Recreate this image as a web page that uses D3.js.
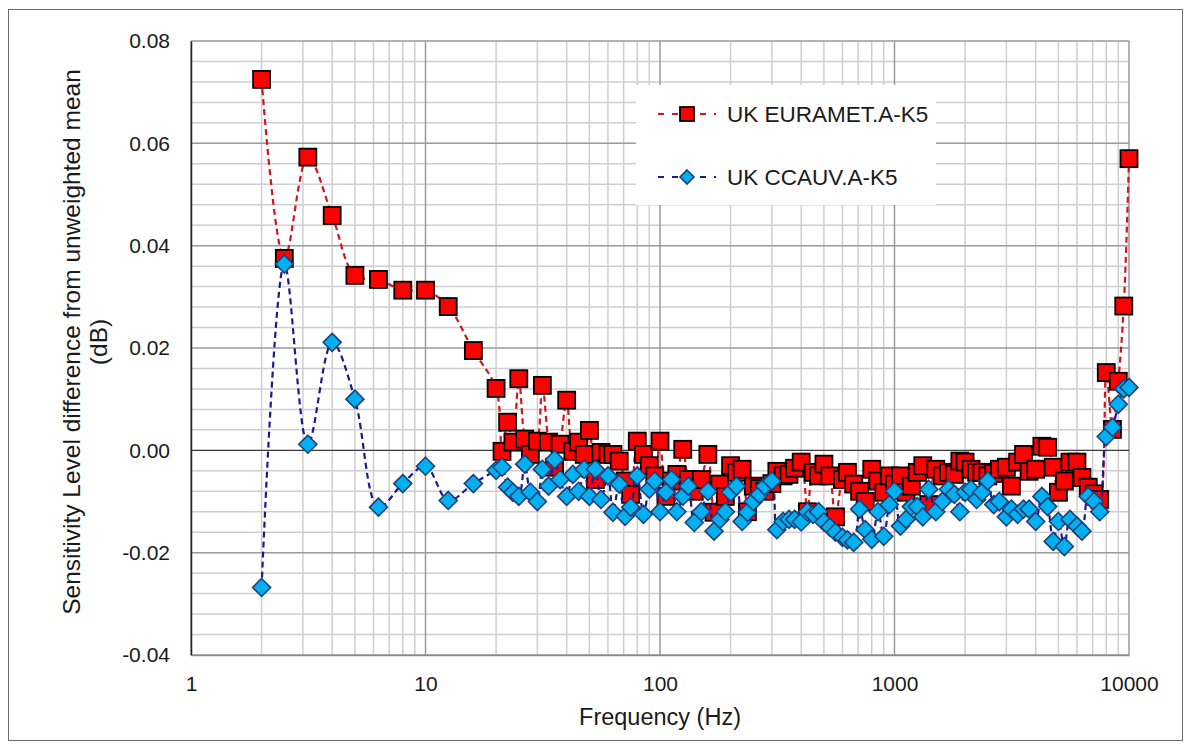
<!DOCTYPE html>
<html>
<head>
<meta charset="utf-8">
<script src="https://cdn.jsdelivr.net/npm/d3@7"></script>
<style>
  html, body { margin: 0; padding: 0; background: #fff; }
  svg { display: block; font-family: "Liberation Sans", Arial, sans-serif; }
</style>
</head>
<body>
<div id="chart"></div>
<script>
// frequencies (Hz): 1/3 octave below 20 Hz, 1/12 octave (R40) from 20 Hz
const freqs = [2, 2.5, 3.15, 4, 5, 6.3, 8, 10, 12.5, 16,
  20, 21.2, 22.4, 23.6, 25, 26.5, 28, 30, 31.5, 33.5, 35.5, 37.5, 40, 42.5, 45, 47.5, 50, 53, 56, 60, 63, 67, 71, 75, 80, 85, 90, 95,
  100, 106, 112, 118, 125, 132, 140, 150, 160, 170, 180, 190, 200, 212, 224, 236, 250, 265, 280, 300, 315, 335, 355, 375, 400, 425, 450, 475, 500, 530, 560, 600, 630, 670, 710, 750, 800, 850, 900, 950,
  1000, 1060, 1120, 1180, 1250, 1320, 1400, 1500, 1600, 1700, 1800, 1900, 2000, 2120, 2240, 2360, 2500, 2650, 2800, 3000, 3150, 3350, 3550, 3750, 4000, 4250, 4500, 4750, 5000, 5300, 5600, 6000, 6300, 6700, 7100, 7500, 8000, 8500, 9000, 9500, 10000]

const euramet = [0.0725, 0.0375, 0.0573, 0.0459, 0.0342, 0.0334, 0.0313, 0.0313, 0.0281, 0.0195,
  0.0121, -0.0002, 0.0055, 0.0016, 0.0140, 0.0022, -0.0008, 0.0018, 0.0127, 0.0016, -0.0033, 0.0012, 0.0098, -0.0002, 0.0016, -0.0008, 0.0039, -0.0057, -0.0004, -0.0008, -0.0008, -0.0021, -0.0060, -0.0086, 0.0018, -0.0008, -0.0030, -0.0050,
  0.0018, -0.0090, -0.0060, -0.0047, 0.0002, -0.0057, -0.0080, -0.0057, -0.0008, -0.0121, -0.0066, -0.0090, -0.0030, -0.0043, -0.0037, -0.0120, -0.0070, -0.0075, -0.0080, -0.0065, -0.0041, -0.0050, -0.0047, -0.0035, -0.0023, -0.0120, -0.0043, -0.0050, -0.0027, -0.0050, -0.0130, -0.0057, -0.0043, -0.0066, -0.0080, -0.0100, -0.0037, -0.0060, -0.0082, -0.0050,
  -0.0066, -0.0050, -0.0082, -0.0070, -0.0043, -0.0030, -0.0106, -0.0037, -0.0050, -0.0043, -0.0047, -0.0021, -0.0023, -0.0037, -0.0043, -0.0043, -0.0050, -0.0045, -0.0037, -0.0033, -0.0070, -0.0023, -0.0008, -0.0041, -0.0037, 0.0008, 0.0006, -0.0033, -0.0082, -0.0060, -0.0023, -0.0023, -0.0053, -0.0072, -0.0085, -0.0096, 0.0152, 0.0041, 0.0135, 0.0282, 0.0570]

const ccauv = [-0.0268, 0.0364, 0.0012, 0.0211, 0.0100, -0.0111, -0.0065, -0.0031, -0.0098, -0.0065,
  -0.0039, -0.0033, -0.0072, -0.0082, -0.0090, -0.0027, -0.0082, -0.0100, -0.0037, -0.0070, -0.0018, -0.0057, -0.0090, -0.0047, -0.0080, -0.0037, -0.0090, -0.0037, -0.0096, -0.0050, -0.0121, -0.0066, -0.0129, -0.0111, -0.0050, -0.0125, -0.0076, -0.0060,
  -0.0120, -0.0082, -0.0057, -0.0120, -0.0090, -0.0070, -0.0141, -0.0120, -0.0080, -0.0158, -0.0135, -0.0120, -0.0082, -0.0070, -0.0139, -0.0121, -0.0100, -0.0086, -0.0070, -0.0060, -0.0155, -0.0139, -0.0135, -0.0135, -0.0140, -0.0120, -0.0125, -0.0120, -0.0140, -0.0150, -0.0160, -0.0170, -0.0175, -0.0180, -0.0115, -0.0155, -0.0174, -0.0120, -0.0168, -0.0106,
  -0.0080, -0.0148, -0.0135, -0.0110, -0.0110, -0.0130, -0.0076, -0.0120, -0.0100, -0.0076, -0.0086, -0.0120, -0.0082, -0.0076, -0.0096, -0.0082, -0.0060, -0.0106, -0.0100, -0.0130, -0.0115, -0.0125, -0.0115, -0.0115, -0.0139, -0.0090, -0.0110, -0.0178, -0.0139, -0.0188, -0.0135, -0.0148, -0.0158, -0.0090, -0.0100, -0.0120, 0.0027, 0.0045, 0.0090, 0.0120, 0.0123]

const seriesNames = ["UK EURAMET.A-K5", "UK CCAUV.A-K5"]
const xTicks = [1, 10, 100, 1000, 10000]
const yTicks = [-0.04, -0.02, 0, 0.02, 0.04, 0.06, 0.08]

const W = 1191, H = 749
const plot = { left: 191, right: 1129, top: 41, bottom: 655 }

const svg = d3.select("#chart").append("svg")
  .attr("width", W).attr("height", H)

// outer chart frame
svg.append("rect")
  .attr("x", 8.5).attr("y", 9.5)
  .attr("width", 1174).attr("height", 731)
  .attr("fill", "#fff").attr("stroke", "#6b6b6b").attr("stroke-width", 1)

const x = d3.scaleLog().domain([1, 10000]).range([plot.left, plot.right])
const y = d3.scaleLinear().domain([-0.04, 0.08]).range([plot.bottom, plot.top])

// gridlines
const minorX = []
for (let d = 1; d < 10000; d *= 10)
  for (let k = 2; k <= 9; k++) minorX.push(d * k)
const minorY = d3.range(-40, 81, 4).map(v => v / 1000).filter(v => !yTicks.some(t => Math.abs(t - v) < 1e-9))

const grid = svg.append("g")
grid.selectAll(".vmin").data(minorX).join("line")
  .attr("x1", d => x(d)).attr("x2", d => x(d))
  .attr("y1", plot.top).attr("y2", plot.bottom)
  .attr("stroke", "#cfcfcf").attr("stroke-width", 1.5)
grid.selectAll(".hmin").data(minorY).join("line")
  .attr("x1", plot.left).attr("x2", plot.right)
  .attr("y1", d => y(d)).attr("y2", d => y(d))
  .attr("stroke", "#cfcfcf").attr("stroke-width", 1.5)
grid.selectAll(".vmaj").data(xTicks).join("line")
  .attr("x1", d => x(d)).attr("x2", d => x(d))
  .attr("y1", plot.top).attr("y2", plot.bottom)
  .attr("stroke", "#9a9a9a").attr("stroke-width", 1.5)
grid.selectAll(".hmaj").data(yTicks.filter(d => d !== 0)).join("line")
  .attr("x1", plot.left).attr("x2", plot.right)
  .attr("y1", d => y(d)).attr("y2", d => y(d))
  .attr("stroke", "#9a9a9a").attr("stroke-width", 1.5)

// zero line
svg.append("line")
  .attr("x1", plot.left).attr("x2", plot.right)
  .attr("y1", y(0)).attr("y2", y(0))
  .attr("stroke", "#3a3a3a").attr("stroke-width", 1.2)

// axes
const yAxis = d3.axisLeft(y).tickValues(yTicks).tickSize(0).tickPadding(21)
  .tickFormat(d => d.toFixed(2))
svg.append("g").attr("transform", `translate(${plot.left},0)`).call(yAxis)
  .call(g => g.select(".domain").attr("stroke", "#222").attr("stroke-width", 1.5))
  .call(g => g.selectAll("text").attr("font-size", 21).attr("fill", "#1a1a1a"))

const xAxis = d3.axisBottom(x).tickValues(xTicks).tickSize(0).tickPadding(21)
  .tickFormat(d3.format("d"))
svg.append("g").attr("transform", `translate(0,${plot.bottom})`).call(xAxis)
  .call(g => g.select(".domain").attr("stroke", "#8a8a8a").attr("stroke-width", 1.5))
  .call(g => g.selectAll("text").attr("font-size", 21).attr("fill", "#1a1a1a"))

// axis titles
svg.append("text")
  .attr("x", (plot.left + plot.right) / 2).attr("y", 725)
  .attr("text-anchor", "middle").attr("font-size", 23.5).attr("fill", "#1a1a1a")
  .text("Frequency (Hz)")

const yTitle = svg.append("text")
  .attr("transform", `translate(80,${(plot.top + plot.bottom) / 2 - 6}) rotate(-90)`)
  .attr("text-anchor", "middle").attr("font-size", 24.5).attr("fill", "#1a1a1a")
yTitle.append("tspan").attr("x", 0).attr("dy", 0).text("Sensitivity Level difference from unweighted mean")
yTitle.append("tspan").attr("x", 0).attr("dy", 27).text("(dB)")

// series
const redData = freqs.map((f, i) => ({ f, v: euramet[i] }))
const blueData = freqs.map((f, i) => ({ f, v: ccauv[i] }))

const line = d3.line()
  .x(d => x(d.f)).y(d => y(d.v))
  .curve(d3.curveCatmullRom.alpha(0.5))

const diamond = "M0,-9L9,0L0,9L-9,0Z"

svg.append("path").datum(redData)
  .attr("d", line).attr("fill", "none")
  .attr("stroke", "#d0161d").attr("stroke-width", 2.2).attr("stroke-dasharray", "6,4")
svg.append("g").selectAll("rect").data(redData).join("rect")
  .attr("x", d => x(d.f) - 8.5).attr("y", d => y(d.v) - 8.5)
  .attr("width", 17).attr("height", 17)
  .attr("fill", "#ff0000").attr("stroke", "#000").attr("stroke-width", 1.8)

svg.append("path").datum(blueData)
  .attr("d", line).attr("fill", "none")
  .attr("stroke", "#1a1a8c").attr("stroke-width", 2.2).attr("stroke-dasharray", "6,4")
svg.append("g").selectAll("path").data(blueData).join("path")
  .attr("transform", d => `translate(${x(d.f)},${y(d.v)})`)
  .attr("d", diamond)
  .attr("fill", "#00b0f0").attr("stroke", "#1f3f78").attr("stroke-width", 1.6)

// legend
const legend = svg.append("g")
legend.append("rect")
  .attr("x", 636).attr("y", 85).attr("width", 300).attr("height", 120)
  .attr("fill", "#fff")
const entries = legend.selectAll("g").data(seriesNames).join("g")
  .attr("transform", (d, i) => `translate(0,${114 + i * 63})`)
entries.append("line")
  .attr("x1", 657).attr("x2", 716).attr("y1", 0).attr("y2", 0)
  .attr("stroke", (d, i) => i === 0 ? "#d0161d" : "#1a1a8c")
  .attr("stroke-width", 2.2).attr("stroke-dasharray", "6,8").attr("stroke-dashoffset", -1)
entries.filter((d, i) => i === 0).append("rect")
  .attr("x", 680).attr("y", -7).attr("width", 14).attr("height", 14)
  .attr("fill", "#ff0000").attr("stroke", "#000").attr("stroke-width", 1.8)
entries.filter((d, i) => i === 1).append("path")
  .attr("transform", "translate(687,0)").attr("d", "M0,-7L7,0L0,7L-7,0Z")
  .attr("fill", "#00b0f0").attr("stroke", "#1f3f78").attr("stroke-width", 1.6)
entries.append("text")
  .attr("x", 727).attr("y", 0).attr("dy", "0.35em")
  .attr("font-size", 22.5).attr("fill", "#1a1a1a")
  .text(d => d)
</script>
</body>
</html>
